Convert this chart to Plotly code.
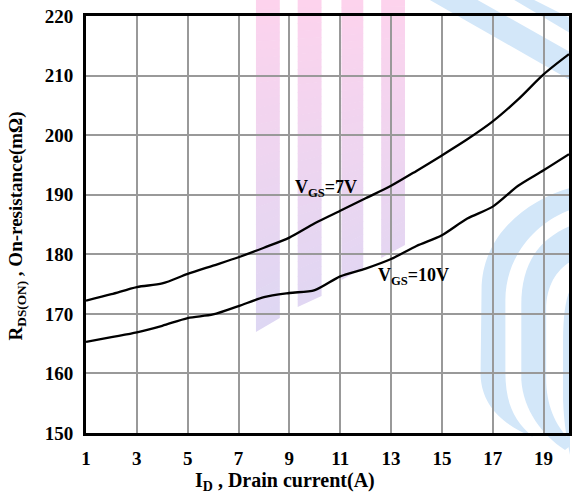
import plotly.graph_objects as go

# Drain current (A)
drain_current = [1, 2, 3, 4, 5, 6, 7, 8, 9, 10, 11, 12, 13, 14, 15, 16, 17, 18, 19, 20]

# On-resistance (mOhm) for each gate drive
rds_vgs7 = [172.2, 173.3, 174.5, 175.1, 176.7, 178.1, 179.5, 181.1, 182.8, 185.2,
            187.3, 189.4, 191.5, 194.0, 196.6, 199.3, 202.3, 206.0, 210.2, 213.6]
rds_vgs10 = [165.3, 166.1, 166.9, 168.0, 169.3, 169.9, 171.3, 172.8, 173.5, 174.0,
             176.3, 177.6, 179.2, 181.4, 183.2, 186.0, 188.0, 191.5, 194.1, 196.8]

x_ticks = [1, 3, 5, 7, 9, 11, 13, 15, 17, 19]
y_ticks = [150, 160, 170, 180, 190, 200, 210, 220]

W, H = 573, 497
ML, MR, MT, MB = 86, 1, 16, 64
PW, PH = W - ML - MR, H - MT - MB

SERIF = "Times New Roman, Liberation Serif, serif"


def px(x):
    return (x - ML) / PW


def py(y):
    return (H - MB - y) / PH


def path(cmds):
    """Build an SVG path in paper units; each L is emitted as its own command."""
    out = []
    for cmd, pts in cmds:
        if cmd == "Z":
            out.append("Z")
        elif cmd == "L":
            for a, b in pts:
                out.append(f"L{px(a):.5f},{py(b):.5f}")
        else:
            coords = " ".join(f"{px(a):.5f},{py(b):.5f}" for a, b in pts)
            out.append(f"{cmd}{coords}")
    return " ".join(out)


shapes = []

# background logo: pink-to-lavender vertical stripes
pink = (253, 211, 237)
lav = (222, 215, 243)


def mix(t):
    t = max(0.0, min(1.0, t))
    return "rgb(%d,%d,%d)" % tuple(round(a + (b - a) * t) for a, b in zip(pink, lav))


stripes = [(257, 281, 332, 318), (299, 323, 307, 296), (343, 365, 280, 268), (383, 407, 258, 245)]
N = 40
for xl, xr, bl, br in stripes:
    for k in range(N):
        t0, t1 = k / N, (k + 1) / N
        yl0, yr0 = bl * t0, br * t0
        yl1, yr1 = min(bl, bl * t1 + 0.6), min(br, br * t1 + 0.6)
        shapes.append(dict(
            type="path", xref="paper", yref="paper", layer="below",
            path=path([("M", [(xl, yl0)]), ("L", [(xr, yr0), (xr, yr1), (xl, yl1)]), ("Z", [])]),
            fillcolor=mix((yl0 + yl1) / 2 / 330), line=dict(width=0),
        ))

blue = "rgb(211,231,249)"
blue_paths = [
    # upper diagonal bands
    [("M", [(432, 0)]), ("L", [(480, 0), (573, 52), (573, 80)]), ("Z", [])],
    [("M", [(517, 0)]), ("L", [(537, 0), (573, 18), (573, 33)]), ("Z", [])],
    # lower arcs
    [("M", [(573, 188)]), ("C", [(530, 200), (484, 235), (484, 290)]), ("L", [(483, 375)]),
     ("C", [(484, 405), (505, 425), (536, 437)]),
     ("C", [(515, 420), (508, 400), (508, 372)]), ("L", [(508, 300)]),
     ("C", [(508, 255), (540, 222), (573, 210)]), ("Z", [])],
    [("M", [(573, 226)]), ("C", [(540, 240), (524, 265), (524, 305)]), ("L", [(524, 380)]),
     ("C", [(526, 410), (545, 435), (568, 450)]), ("L", [(573, 446), (573, 440)]),
     ("C", [(558, 425), (549, 405), (549, 378)]), ("L", [(549, 310)]),
     ("C", [(549, 285), (560, 270), (573, 262)]), ("Z", [])],
    [("M", [(573, 290)]), ("C", [(568, 300), (566, 320), (566, 340)]), ("L", [(566, 400)]),
     ("C", [(567, 425), (570, 440), (573, 455)]), ("Z", [])],
]
for bp in blue_paths:
    shapes.append(dict(type="path", xref="paper", yref="paper", layer="below",
                       path=path(bp), fillcolor=blue, line=dict(width=0)))

fig = go.Figure()
for ys in (rds_vgs7, rds_vgs10):
    fig.add_trace(go.Scatter(
        x=drain_current, y=ys, mode="lines",
        line=dict(color="black", width=2.3, shape="spline", smoothing=0.8),
        hoverinfo="skip", showlegend=False,
    ))

tick_font = dict(family=SERIF, size=19, color="black", weight="bold")
axis_common = dict(
    showgrid=True, gridcolor="#999999", gridwidth=1.6,
    showline=True, linecolor="black", linewidth=3, mirror=True,
    zeroline=False, ticks="", tickfont=tick_font,
)

fig.update_xaxes(range=[1, 20], tickvals=x_ticks, ticklabelstandoff=6, **axis_common)
fig.update_yaxes(range=[150, 220], tickvals=y_ticks, ticklabelstandoff=6, **axis_common)

annotations = [
    dict(x=9.13, y=191.1, xref="x", yref="y", xanchor="left", yanchor="middle",
         text="V<sub>GS</sub>=7V", showarrow=False,
         font=dict(family=SERIF, size=18, color="black", weight="bold")),
    dict(x=12.40, y=176.2, xref="x", yref="y", xanchor="left", yanchor="middle",
         text="V<sub>GS</sub>=10V", showarrow=False,
         font=dict(family=SERIF, size=18, color="black", weight="bold")),
    dict(x=px(194), y=py(481), xref="paper", yref="paper", xanchor="left", yanchor="middle",
         text="I<sub>D</sub> , Drain current(A)", showarrow=False,
         font=dict(family=SERIF, size=20, color="black", weight="bold")),
    dict(x=px(17), y=py(226), xref="paper", yref="paper", xanchor="center", yanchor="middle",
         text="R<sub>DS(ON)</sub> , On-resistance(mΩ)", showarrow=False, textangle=-90,
         font=dict(family=SERIF, size=19, color="black", weight="bold")),
]

fig.update_layout(
    width=W, height=H,
    margin=dict(l=ML, r=MR, t=MT, b=MB),
    paper_bgcolor="white", plot_bgcolor="rgba(0,0,0,0)",
    shapes=shapes, annotations=annotations,
    showlegend=False,
)

fig.write_html("out.html")
